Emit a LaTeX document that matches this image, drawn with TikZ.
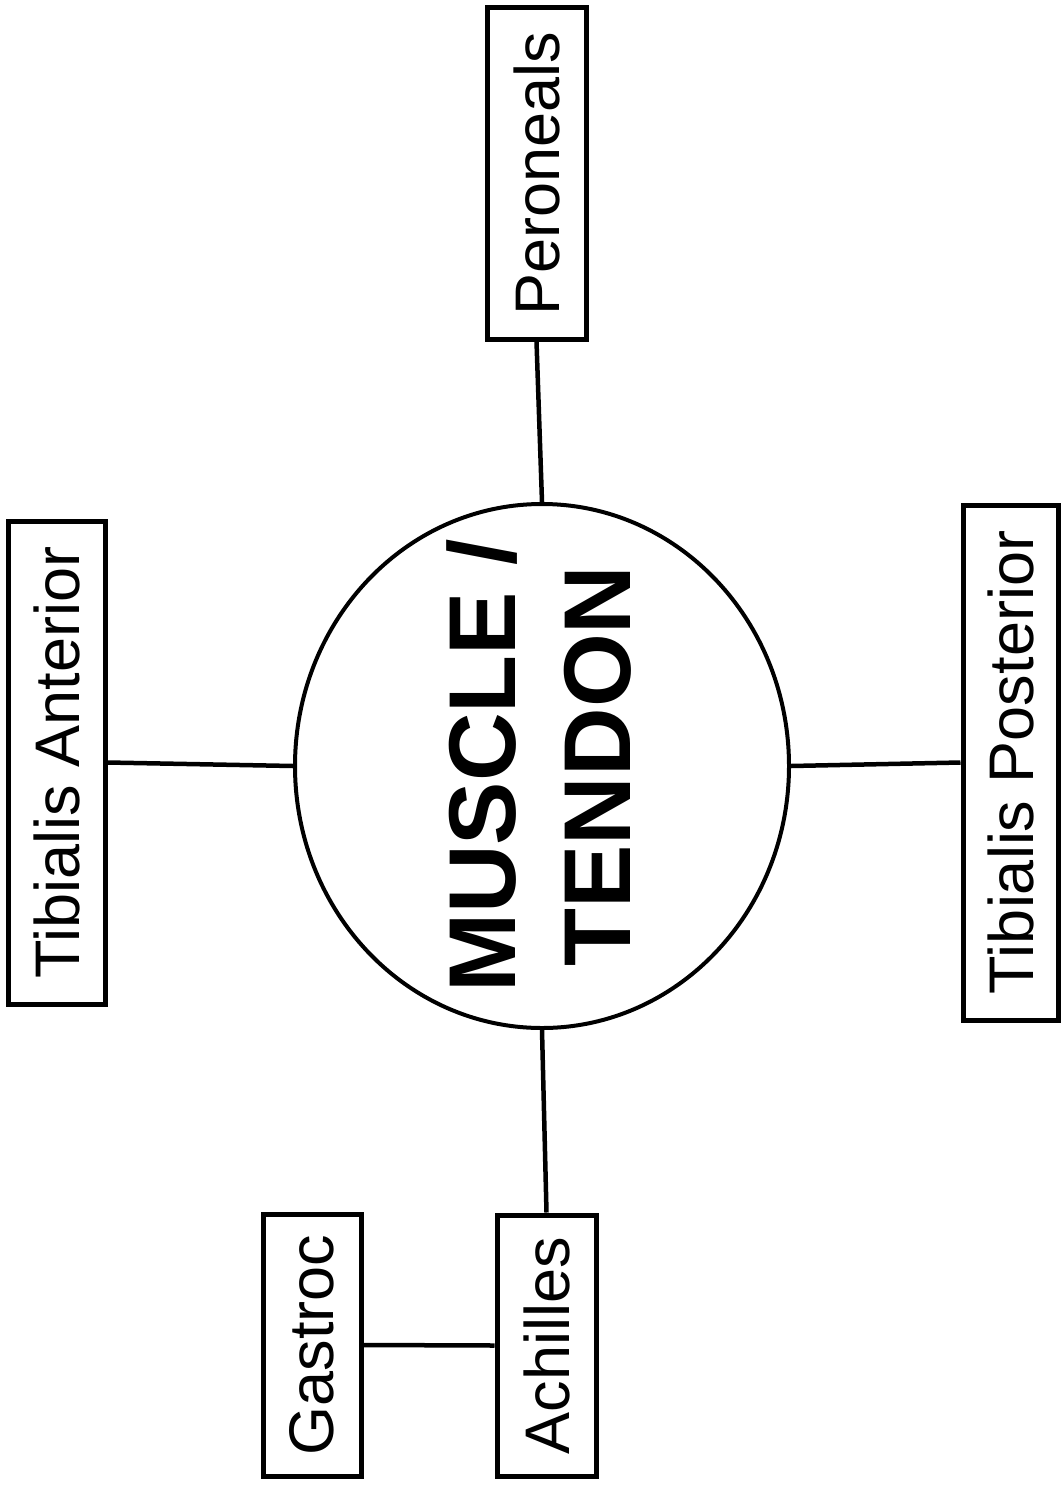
\documentclass[tikz,border=0pt]{standalone}
\usepackage{fontspec}
\setmainfont{Liberation Sans}
\usetikzlibrary{shapes.geometric}
\tikzset{
  muscbox/.style={draw, line width=5pt, rectangle, inner sep=0pt,
    font=\fontsize{63}{70}\selectfont},
  link/.style={line width=4.5pt}
}
\newcommand{\up}[1]{\rotatebox{90}{#1}}

\begin{document}
\begin{tikzpicture}[x=1pt,y=-1pt]
\useasboundingbox (0,0) rectangle (1064,1485);
\node [draw, ellipse, line width=4pt, inner xsep=0pt, inner ysep=-50pt, minimum width=494pt, minimum height=524pt,
  font=\fontsize{95}{115}\selectfont\bfseries] (muscle) at (542,766)
  {\up{\raisebox{-8pt}[\height][\depth]{\begin{tabular}{@{}c@{}}MUSCLE /\\TENDON\end{tabular}}}};
\node [muscbox, minimum width=99pt, minimum height=331pt] (pero) at (536.5,173.5) {\up{Peroneals}};
\node [muscbox, minimum width=97pt, minimum height=483pt] (tibant) at (56.5,762.5) {\up{Tibialis Anterior}};
\node [muscbox, minimum width=95pt, minimum height=515pt] (tibpost) at (1010.5,762.5) {\up{Tibialis Posterior}};
\node [muscbox, minimum width=98pt, minimum height=262pt] (gastroc) at (312,1345) {\up{Gastroc}};
\node [muscbox, minimum width=99pt, minimum height=261pt] (achilles) at (546.5,1345.5) {\up{Achilles}};
\draw [link] (pero.south) -- (muscle.north);
\draw [link] (tibant.east) -- (muscle.west);
\draw [link] (muscle.east) -- (tibpost.west);
\draw [link] (muscle.south) -- (achilles.north);
\draw [link] (gastroc.east) -- (achilles.west);
\end{tikzpicture}
\end{document}
